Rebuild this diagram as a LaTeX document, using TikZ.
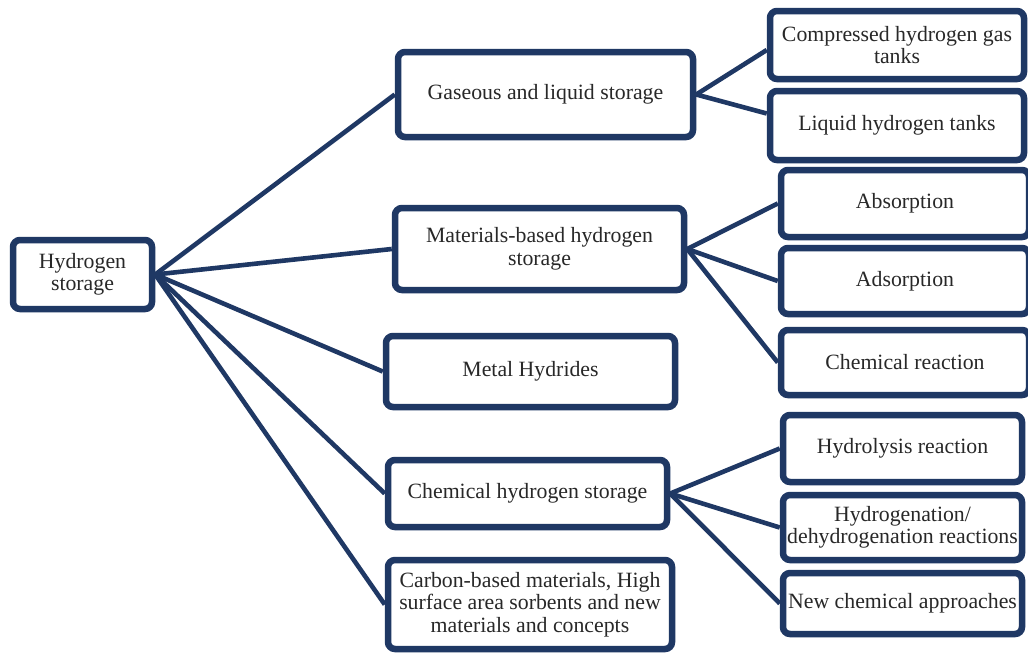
\documentclass[tikz,border=0pt]{standalone}
\usepackage{fontspec}
\setmainfont{Liberation Serif}
\usetikzlibrary{shadows,backgrounds,calc}
\definecolor{navy}{RGB}{31,56,100}
\definecolor{txt}{RGB}{40,40,40}
\begin{document}
\begin{tikzpicture}[x=1pt,y=-1pt,
  box/.style={draw=navy, line width=6.5pt, rounded corners=7pt, fill=white, text=txt,
    align=center, inner sep=0pt, font=\fontsize{21.8}{22.5}\selectfont,
    drop shadow={shadow xshift=1.5pt, shadow yshift=-2pt, opacity=0.3, fill=black}},
  link/.style={draw=navy, line width=4.6pt}]
\useasboundingbox (0,0) rectangle (1028,654);
\clip (0,0) rectangle (1028,654);
% level 0
\node[box, minimum width=139pt, minimum height=69pt] (root) at (82.5,274.5) {Hydrogen\\storage};
% level 1
\node[box, minimum width=295pt, minimum height=85pt] (gas) at (545.5,94.5) {Gaseous and liquid storage};
\node[box, minimum width=289pt, minimum height=82pt] (mat) at (539.5,249) {Materials-based hydrogen\\storage};
\node[box, minimum width=289pt, minimum height=71pt] (metal) at (530.5,371.5) {Metal Hydrides};
\node[box, minimum width=279pt, minimum height=67pt] (chem) at (527.5,493.5) {Chemical hydrogen storage};
\node[box, minimum width=284pt, minimum height=89pt] (carbon) at (530,604.5) {Carbon-based materials, High\\surface area sorbents and new\\materials and concepts};
% level 2
\node[box, minimum width=254pt, minimum height=68pt] (comp) at (897,45) {Compressed hydrogen gas\\tanks};
\node[box, minimum width=254pt, minimum height=69pt] (liq) at (897,125.5) {Liquid hydrogen tanks};
\node[box, minimum width=248pt, minimum height=67pt] (abs) at (905,203.5) {Absorption};
\node[box, minimum width=248pt, minimum height=66pt] (ads) at (905,281) {Adsorption};
\node[box, minimum width=248pt, minimum height=65pt] (chr) at (905,362.5) {Chemical reaction};
\node[box, minimum width=239pt, minimum height=67pt] (hyd) at (902.5,448.5) {Hydrolysis reaction};
\node[box, minimum width=239pt, minimum height=65pt] (hdg) at (902.5,527.5) {Hydrogenation/\\dehydrogenation reactions};
\node[box, minimum width=239pt, minimum height=61pt] (new) at (902.5,603.5) {New chemical approaches};
% connectors
\begin{scope}[on background layer]
\fill[white] (0,0) rectangle (1028,654);
\draw[link] (root.east) -- (gas.west);
\draw[link] (root.east) -- (mat.west);
\draw[link] (root.east) -- (metal.west);
\draw[link] (root.east) -- (chem.west);
\draw[link] (root.east) -- (carbon.west);
\draw[link] (gas.east) -- ($(comp.west)+(0,5)$);
\draw[link] (gas.east) -- ($(liq.west)+(0,-12)$);
\draw[link] (mat.east) -- (abs.west);
\draw[link] (mat.east) -- (ads.west);
\draw[link] (mat.east) -- (chr.west);
\draw[link] (chem.east) -- (hyd.west);
\draw[link] (chem.east) -- (hdg.west);
\draw[link] (chem.east) -- (new.west);
\end{scope}
\end{tikzpicture}
\end{document}
